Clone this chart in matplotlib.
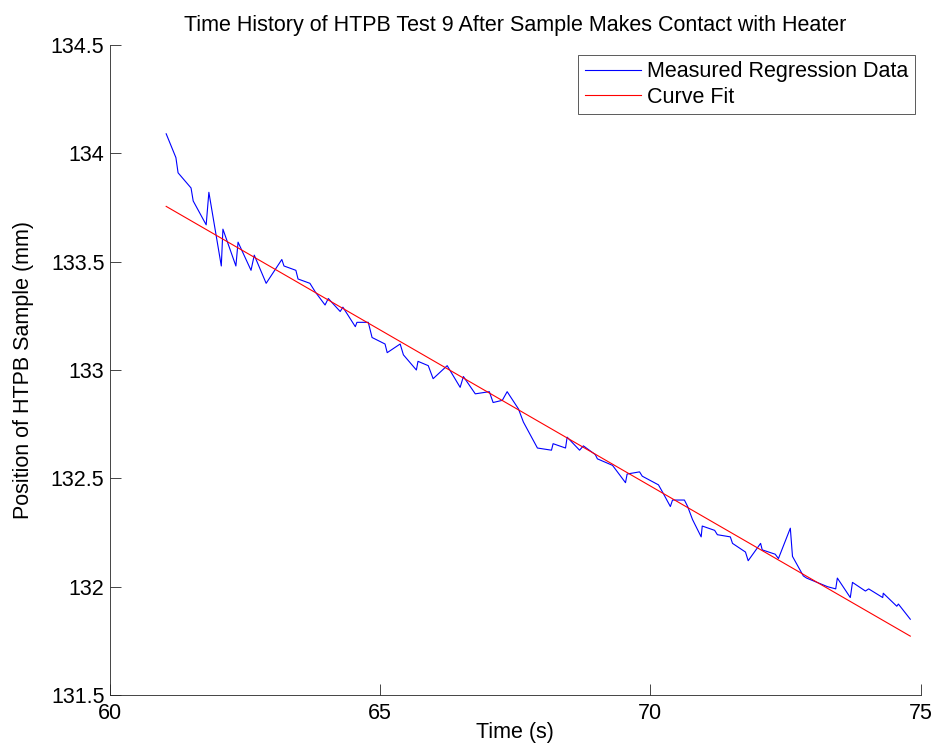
import numpy as np
import matplotlib
matplotlib.use("Agg")
import matplotlib.pyplot as plt

plt.rcParams['font.family'] = ['Liberation Sans', 'DejaVu Sans']

time_s = [61.04, 61.22, 61.26, 61.50, 61.54, 61.78, 61.83, 62.06, 62.09, 62.33,
          62.37, 62.61, 62.67, 62.89, 63.18, 63.22, 63.44, 63.48, 63.70, 63.80,
          63.98, 64.04, 64.26, 64.31, 64.54, 64.57, 64.78, 64.85, 65.09, 65.13,
          65.37, 65.43, 65.67, 65.70, 65.89, 65.98, 66.24, 66.48, 66.54, 66.76,
          67.02, 67.09, 67.26, 67.35, 67.56, 67.65, 67.91, 68.17, 68.20, 68.43,
          68.46, 68.69, 68.76, 68.98, 69.02, 69.30, 69.54, 69.57, 69.80, 69.85,
          70.15, 70.24, 70.37, 70.41, 70.63, 70.69, 70.78, 70.94, 70.96, 71.19,
          71.24, 71.48, 71.52, 71.76, 71.81, 72.04, 72.07, 72.31, 72.37, 72.59,
          72.63, 72.83, 72.89, 73.28, 73.43, 73.46, 73.70, 73.74, 73.98, 74.04,
          74.30, 74.31, 74.56, 74.59, 74.81]
position_mm = [134.09, 133.98, 133.91, 133.84, 133.78, 133.67, 133.82, 133.48, 133.65, 133.48,
               133.59, 133.46, 133.53, 133.40, 133.51, 133.48, 133.46, 133.42, 133.40, 133.36,
               133.30, 133.33, 133.27, 133.29, 133.20, 133.22, 133.22, 133.15, 133.12, 133.08,
               133.12, 133.07, 133.00, 133.04, 133.02, 132.96, 133.02, 132.92, 132.97, 132.89,
               132.90, 132.85, 132.86, 132.90, 132.82, 132.76, 132.64, 132.63, 132.66, 132.64,
               132.69, 132.63, 132.65, 132.61, 132.59, 132.56, 132.48, 132.52, 132.53, 132.51,
               132.47, 132.43, 132.37, 132.40, 132.40, 132.37, 132.31, 132.23, 132.28, 132.26,
               132.24, 132.23, 132.20, 132.16, 132.12, 132.20, 132.17, 132.15, 132.13, 132.27,
               132.14, 132.05, 132.04, 132.00, 131.99, 132.04, 131.95, 132.02, 131.98, 131.99,
               131.95, 131.97, 131.91, 131.92, 131.85]

# linear curve fit end points
fit_t = [61.04, 74.81]
fit_mm = [133.755, 131.772]

x_ticks = [60, 65, 70, 75]
y_ticks = [131.5, 132, 132.5, 133, 133.5, 134, 134.5]
y_labels = ['131.5', '132', '132.5', '133', '133.5', '134', '134.5']

fs = 15.5

fig = plt.figure(figsize=(9.36, 7.49), dpi=100)
ax = fig.add_axes([0.1175, 0.072, 0.866, 0.868])

ax.plot(time_s, position_mm, color='#0000ff', lw=0.8, label='Measured Regression Data')
ax.plot(fit_t, fit_mm, color='#ff0000', lw=0.8, label='Curve Fit')

ax.set_xlim(60, 75)
ax.set_ylim(131.5, 134.5)
ax.set_xticks(x_ticks)
ax.set_yticks(y_ticks)
ax.set_yticklabels(y_labels)
ax.tick_params(direction='in', length=8, labelsize=fs, width=0.6, colors='#262626',
               labelcolor='black')
ax.tick_params(axis='x', pad=6)
ax.tick_params(axis='y', pad=4)
ax.spines['top'].set_visible(False)
ax.spines['right'].set_visible(False)
for s in ['left', 'bottom']:
    ax.spines[s].set_color('#262626')
    ax.spines[s].set_linewidth(0.6)

ax.set_xlabel('Time (s)', fontsize=fs, labelpad=-2)
ax.set_ylabel('Position of HTPB Sample (mm)', fontsize=fs, labelpad=12)
ax.set_title('Time History of HTPB Test 9 After Sample Makes Contact with Heater',
             fontsize=fs, pad=10)

leg = ax.legend(loc='upper right', bbox_to_anchor=(915 / 936, 1 - 55 / 749),
                bbox_transform=fig.transFigure, borderaxespad=0,
                fontsize=fs, fancybox=False, framealpha=1,
                edgecolor='#404040', handlelength=2.6, handletextpad=0.3,
                borderpad=0.3, labelspacing=0.2)
leg.get_frame().set_linewidth(0.6)

fig.savefig('out.png', dpi=100)
